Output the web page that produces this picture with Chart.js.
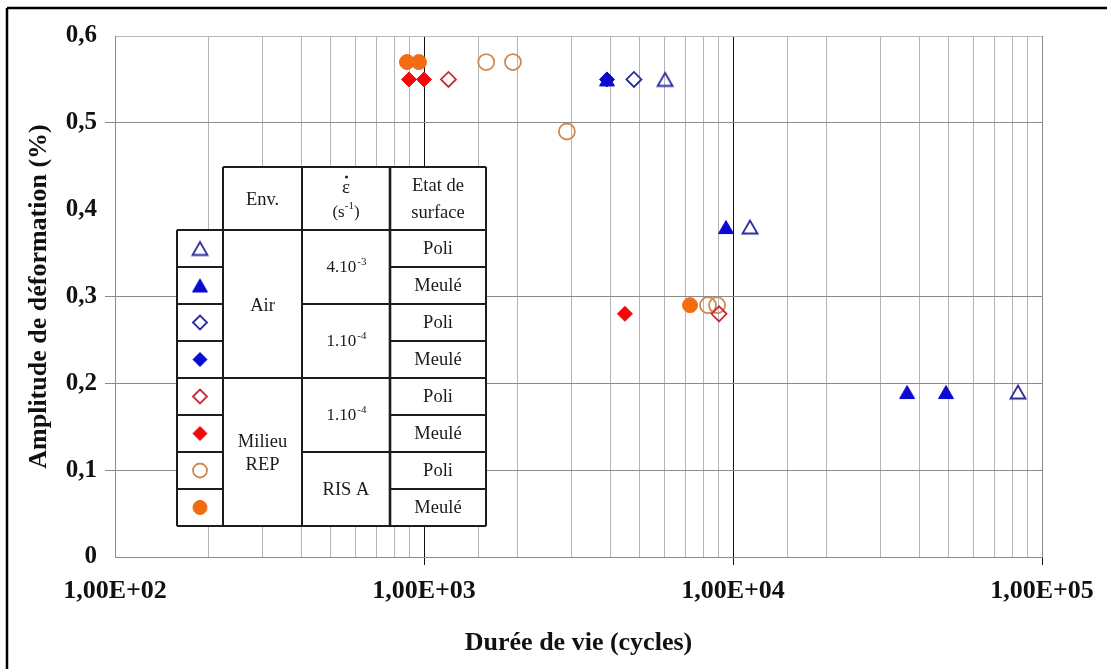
<!DOCTYPE html>
<html>
<head>
<meta charset="utf-8">
<script src="https://cdn.jsdelivr.net/npm/chart.js@4.4.1/dist/chart.umd.min.js"></script>
<style>
  html, body { margin: 0; padding: 0; background: #ffffff; }
  canvas { display: block; }
</style>
</head>
<body>
<canvas id="fatigue" width="1107" height="669"></canvas>
<script>
// Fatigue life (cycles) against strain amplitude (%), one array per test condition
const airPoli4e3  = [[6030, 0.55], [11350, 0.38], [83600, 0.19]];
const airMeule4e3 = [[3910, 0.55], [9490, 0.38], [36600, 0.19], [48900, 0.19]];
const airPoli1e4  = [[4780, 0.55]];
const airMeule1e4 = [[3910, 0.55]];
const repPoli1e4  = [[1200, 0.55], [9010, 0.28]];
const repMeule1e4 = [[894, 0.55], [1000, 0.55], [4470, 0.28]];
const repPoliRis  = [[1590, 0.57], [1940, 0.57], [2900, 0.49], [8300, 0.29], [8880, 0.29]];
const repMeuleRis = [[881, 0.57], [963, 0.57], [7260, 0.29]];

// Axis ticks
const xTickValues = [100, 1000, 10000, 100000];
const xTickLabels = ['1,00E+02', '1,00E+03', '1,00E+04', '1,00E+05'];
const yTickValues = [0, 0.1, 0.2, 0.3, 0.4, 0.5, 0.6];
const yTickLabels = ['0', '0,1', '0,2', '0,3', '0,4', '0,5', '0,6'];

// Key table text
const tableHeader = ['Env.', 'ε', 'Etat de'];
const envGroups = [['Air'], ['Milieu', 'REP']];
const rateGroups = [['4.10', '-3'], ['1.10', '-4'], ['1.10', '-4'], ['RIS A', '']];
const surfaceRows = ['Poli', 'Meulé', 'Poli', 'Meulé', 'Poli', 'Meulé', 'Poli', 'Meulé'];

const toPoints = arr => arr.map(p => ({ x: p[0], y: p[1] }));

const BLUE_OPEN = '#2a2a9c';
const BLUE_FILL = '#0a0ad0';
const RED_OPEN = '#c8283c';
const RED_FILL = '#f00a0a';
const ORANGE_OPEN = '#cf8a4c';
const ORANGE_FILL = '#f26c14';

// Triangle marker centred on its bounding box
function triangleMarker(color, open) {
  const c = document.createElement('canvas');
  c.width = 20; c.height = 20;
  const g = c.getContext('2d');
  const w = 15, h = 13;
  g.beginPath();
  g.moveTo(10, 10 - h / 2);
  g.lineTo(10 + w / 2, 10 + h / 2);
  g.lineTo(10 - w / 2, 10 + h / 2);
  g.closePath();
  if (open) {
    g.lineWidth = 1.8;
    g.strokeStyle = color;
    g.stroke();
  } else {
    g.fillStyle = color;
    g.fill();
    g.lineWidth = 1;
    g.strokeStyle = color;
    g.stroke();
  }
  return c;
}

const series = [
  { data: airPoli4e3,  style: triangleMarker(BLUE_OPEN, true),  r: 8.5, open: true,  color: BLUE_OPEN },
  { data: airMeule4e3, style: triangleMarker(BLUE_FILL, false), r: 8.5, open: false, color: BLUE_FILL },
  { data: airPoli1e4,  style: 'rectRot',  r: 7.5, open: true,  color: BLUE_OPEN },
  { data: airMeule1e4, style: 'rectRot',  r: 7.5, open: false, color: BLUE_FILL },
  { data: repPoli1e4,  style: 'rectRot',  r: 7.5, open: true,  color: RED_OPEN },
  { data: repMeule1e4, style: 'rectRot',  r: 7.5, open: false, color: RED_FILL },
  { data: repPoliRis,  style: 'circle',   r: 8,   open: true,  color: ORANGE_OPEN },
  { data: repMeuleRis, style: 'circle',   r: 7.5, open: false, color: ORANGE_FILL }
];

const datasets = series.map(s => ({
  data: toPoints(s.data),
  pointStyle: s.style,
  pointRadius: s.r,
  pointHoverRadius: s.r,
  pointBorderWidth: s.open ? 1.8 : 1,
  borderColor: s.color,
  pointBorderColor: s.color,
  pointBackgroundColor: s.open ? 'rgba(255,255,255,0)' : s.color,
  backgroundColor: s.open ? 'rgba(255,255,255,0)' : s.color,
  showLine: false
}));

const SERIF = "'Liberation Serif', 'DejaVu Serif', serif";

// Key table drawn over the plot area
const keyTable = {
  id: 'keyTable',
  afterDraw(chart) {
    const ctx = chart.ctx;
    const colX = [177, 223, 302, 390, 486];
    const top = 167, headBottom = 230, rowH = 37;
    const rowY = i => headBottom + i * rowH;
    const bottom = rowY(8);

    ctx.save();
    ctx.fillStyle = '#ffffff';
    ctx.fillRect(colX[1], top, colX[4] - colX[1], headBottom - top);
    ctx.fillRect(colX[0], headBottom, colX[4] - colX[0], bottom - headBottom);

    ctx.strokeStyle = '#1c1c1c';
    ctx.lineWidth = 2;
    const line = (x1, y1, x2, y2) => { ctx.beginPath(); ctx.moveTo(x1, y1); ctx.lineTo(x2, y2); ctx.stroke(); };

    // outer frame
    line(colX[1], top, colX[4], top);
    line(colX[0], headBottom, colX[4], headBottom);
    line(colX[0], bottom, colX[4], bottom);
    line(colX[0], headBottom, colX[0], bottom);
    line(colX[1], top, colX[1], bottom);
    line(colX[2], top, colX[2], bottom);
    ctx.lineWidth = 2.6;
    line(colX[3], top, colX[3], bottom);
    ctx.lineWidth = 2;
    line(colX[4], top, colX[4], bottom);
    // row rules: symbol and surface columns every row
    for (let i = 1; i < 8; i++) {
      line(colX[0], rowY(i), colX[1], rowY(i));
      line(colX[3], rowY(i), colX[4], rowY(i));
    }
    // environment split and strain-rate splits
    line(colX[1], rowY(4), colX[2], rowY(4));
    for (let i = 2; i < 8; i += 2) line(colX[2], rowY(i), colX[3], rowY(i));

    // text
    ctx.fillStyle = '#1a1a1a';
    ctx.textAlign = 'center';
    ctx.textBaseline = 'middle';
    const font = size => `${size}px ${SERIF}`;
    const TXT = 18.5;
    ctx.font = font(TXT);
    const cx = k => (colX[k] + colX[k + 1]) / 2;

    ctx.fillText(tableHeader[0], cx(1), 200);
    // epsilon with a rate dot above it
    ctx.font = font(19);
    ctx.fillText(tableHeader[1], cx(2), 188);
    ctx.beginPath();
    ctx.arc(cx(2) + 0.5, 177, 1.5, 0, Math.PI * 2);
    ctx.fill();
    // (s^-1)
    ctx.font = font(17);
    const sW = ctx.measureText('(s').width;
    ctx.font = font(11);
    const supW = ctx.measureText('-1').width;
    ctx.font = font(17);
    const cW = ctx.measureText(')').width;
    let sx = cx(2) - (sW + supW + cW) / 2;
    ctx.textAlign = 'left';
    ctx.fillText('(s', sx, 213);
    ctx.font = font(11);
    ctx.fillText('-1', sx + sW, 206);
    ctx.font = font(17);
    ctx.fillText(')', sx + sW + supW, 213);
    ctx.textAlign = 'center';
    ctx.font = font(TXT);
    ctx.fillText(tableHeader[2], cx(3), 186);
    ctx.fillText('surface', cx(3), 213);

    // environment
    ctx.fillText(envGroups[0][0], cx(1), (rowY(0) + rowY(4)) / 2 + 2);
    const envMid = (rowY(4) + rowY(8)) / 2;
    ctx.fillText(envGroups[1][0], cx(1), envMid - 10);
    ctx.fillText(envGroups[1][1], cx(1), envMid + 13);

    // strain rate
    rateGroups.forEach((g, k) => {
      const y = (rowY(2 * k) + rowY(2 * k + 2)) / 2;
      if (!g[1]) { ctx.font = font(TXT); ctx.textAlign = 'center'; ctx.fillText(g[0], cx(2), y + 1); return; }
      ctx.font = font(17);
      const bw = ctx.measureText(g[0]).width;
      ctx.font = font(11);
      const ew = ctx.measureText(g[1]).width;
      const x0 = cx(2) - (bw + ew) / 2;
      ctx.textAlign = 'left';
      ctx.font = font(17);
      ctx.fillText(g[0], x0, y + 1);
      ctx.font = font(11);
      ctx.fillText(g[1], x0 + bw + 1, y - 5);
      ctx.textAlign = 'center';
    });

    // surface state
    ctx.font = font(TXT);
    surfaceRows.forEach((t, i) => ctx.fillText(t, cx(3), rowY(i) + rowH / 2 + 1));

    // symbols, taken from the datasets
    chart.data.datasets.forEach((ds, i) => {
      const opts = {
        pointStyle: ds.pointStyle,
        radius: 7,
        borderWidth: ds.pointBorderWidth,
        rotation: 0
      };
      ctx.fillStyle = ds.pointBackgroundColor;
      ctx.strokeStyle = ds.pointBorderColor;
      ctx.lineWidth = ds.pointBorderWidth;
      Chart.helpers.drawPoint(ctx, opts, cx(0), rowY(i) + rowH / 2);
    });

    // frame of the whole figure
    ctx.strokeStyle = '#000000';
    ctx.lineWidth = 2.5;
    line(7, 8, 1107, 8);
    line(7, 8, 7, 669);
    ctx.restore();
  }
};

new Chart(document.getElementById('fatigue'), {
  type: 'scatter',
  data: { datasets },
  options: {
    responsive: false,
    animation: false,
    devicePixelRatio: 1,
    layout: { padding: { left: 0, top: 36, right: 65, bottom: 0 } },
    plugins: { legend: { display: false }, tooltip: { enabled: false } },
    scales: {
      x: {
        type: 'logarithmic',
        min: 100,
        max: 100000,
        afterFit: s => { s.height = 112; },
        border: { display: true, color: '#8a8a8a', width: 1 },
        grid: {
          drawTicks: true,
          tickLength: 8,
          lineWidth: 1,
          color: c => {
            const v = c.tick && c.tick.value;
            if (v === 1000 || v === 10000) return '#111111';
            if (v === 100000) return '#8a8a8a';
            return '#b4b4b4';
          },
          tickColor: c => {
            const v = c.tick && c.tick.value;
            return (v === 1000 || v === 10000 || v === 100000) ? '#111111' : 'rgba(0,0,0,0)';
          }
        },
        ticks: {
          autoSkip: false,
          maxRotation: 0,
          padding: 11,
          color: '#111111',
          font: { family: SERIF, size: 26, weight: 'bold' },
          callback: v => {
            const i = xTickValues.findIndex(t => Math.abs(t - v) < 1e-6 * t);
            return i >= 0 ? xTickLabels[i] : '';
          }
        },
        title: {
          display: true,
          text: 'Durée de vie (cycles)',
          color: '#111111',
          font: { family: SERIF, size: 26, weight: 'bold' },
          padding: { top: 0, bottom: 10 }
        }
      },
      y: {
        min: 0,
        max: 0.6,
        afterFit: s => { s.width = 115; },
        afterBuildTicks: s => { s.ticks = yTickValues.map(v => ({ value: v })); },
        border: { display: true, color: '#8a8a8a', width: 1 },
        grid: {
          drawTicks: true,
          tickLength: 10,
          lineWidth: 1,
          color: c => {
            const v = c.tick && c.tick.value;
            if (v === undefined) return 'rgba(0,0,0,0)';
            if (Math.abs(v - 0.4) < 1e-6) return 'rgba(0,0,0,0)';
            if (Math.abs(v - 0.6) < 1e-6) return '#b8b8b8';
            return '#8a8a8a';
          },
          tickColor: c => {
            const v = c.tick && c.tick.value;
            if (v === undefined) return 'rgba(0,0,0,0)';
            if (Math.abs(v - 0.4) < 1e-6 || Math.abs(v - 0.6) < 1e-6 || v === 0) return 'rgba(0,0,0,0)';
            return '#8a8a8a';
          }
        },
        ticks: {
          padding: 8,
          color: '#111111',
          font: { family: SERIF, size: 25, weight: 'bold' },
          callback: v => {
            const i = yTickValues.findIndex(t => Math.abs(t - v) < 1e-6);
            return i >= 0 ? yTickLabels[i] : '';
          }
        },
        title: {
          display: true,
          text: 'Amplitude de déformation (%)',
          color: '#111111',
          font: { family: SERIF, size: 26, weight: 'bold' },
          padding: { top: 24, bottom: 0 }
        }
      }
    }
  },
  plugins: [keyTable]
});
</script>
</body>
</html>
